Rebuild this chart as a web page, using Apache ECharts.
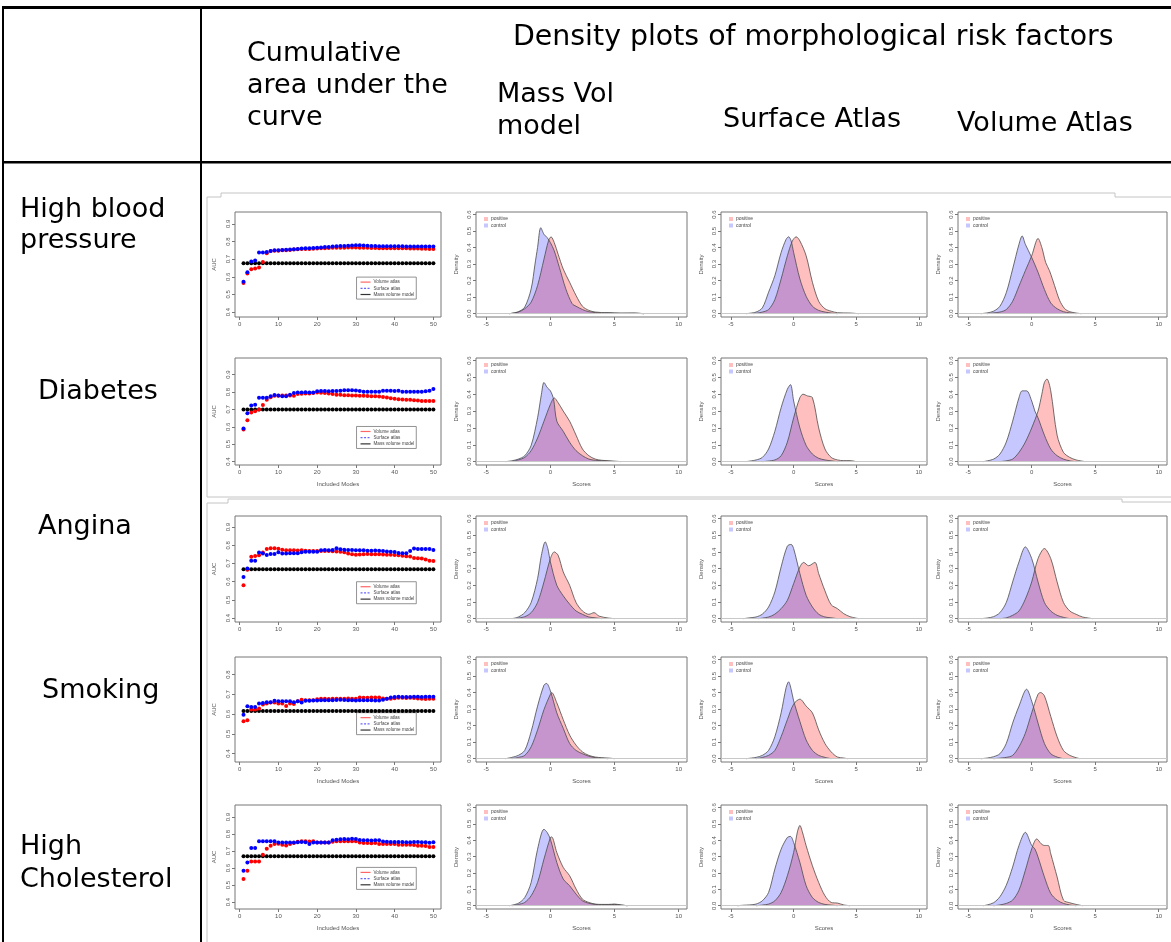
<!DOCTYPE html>
<html>
<head>
<meta charset="utf-8">
<script src="https://cdn.jsdelivr.net/npm/echarts@6/dist/echarts.min.js"></script>
<style>
html, body { margin: 0; padding: 0; background: #fff; }
#chart { width: 1171px; height: 942px; }
</style>
</head>
<body>
<div id="chart"></div>
<script>
// ---- data ----
const modeIdx = Array.from({length: 50}, (_, i) => i + 1) // included modes 1..50

// cumulative AUC, one array per risk factor and atlas
const aucVolHBP = [0.565,0.619,0.643,0.647,0.653,0.683,0.733,0.746,0.748,0.748,0.750,0.750,0.752,0.754,0.756,0.757,0.757,0.758,0.759,0.760,0.761,0.762,0.763,0.764,0.764,0.765,0.765,0.766,0.766,0.766,0.765,0.764,0.764,0.763,0.763,0.762,0.762,0.762,0.762,0.762,0.761,0.761,0.761,0.760,0.760,0.760,0.759,0.759,0.758,0.757]
const aucSurfHBP = [0.572,0.625,0.687,0.692,0.737,0.737,0.741,0.746,0.750,0.750,0.751,0.753,0.755,0.756,0.758,0.760,0.761,0.762,0.763,0.765,0.766,0.768,0.769,0.771,0.773,0.774,0.775,0.776,0.777,0.778,0.778,0.777,0.776,0.775,0.774,0.773,0.773,0.773,0.773,0.773,0.773,0.773,0.772,0.772,0.771,0.771,0.771,0.771,0.771,0.771]
const aucMassHBP = 0.677

const aucVolDiab = [0.585,0.637,0.682,0.690,0.700,0.725,0.755,0.770,0.778,0.779,0.780,0.780,0.780,0.778,0.789,0.790,0.791,0.792,0.794,0.798,0.796,0.795,0.792,0.789,0.785,0.784,0.782,0.781,0.780,0.780,0.779,0.778,0.777,0.776,0.776,0.774,0.772,0.768,0.764,0.761,0.759,0.757,0.756,0.755,0.753,0.752,0.748,0.748,0.748,0.748]
const aucSurfDiab = [0.590,0.678,0.723,0.727,0.767,0.767,0.767,0.776,0.783,0.780,0.776,0.776,0.785,0.795,0.798,0.798,0.799,0.798,0.798,0.804,0.806,0.806,0.805,0.806,0.806,0.808,0.810,0.810,0.810,0.809,0.806,0.802,0.802,0.802,0.801,0.802,0.808,0.808,0.807,0.806,0.808,0.802,0.801,0.801,0.801,0.801,0.802,0.805,0.808,0.817]
const aucMassDiab = 0.699

const aucVolAng = [0.580,0.665,0.737,0.741,0.745,0.760,0.780,0.783,0.783,0.781,0.775,0.773,0.772,0.772,0.771,0.772,0.770,0.768,0.768,0.768,0.768,0.769,0.768,0.767,0.766,0.765,0.761,0.755,0.750,0.748,0.749,0.751,0.752,0.751,0.750,0.750,0.749,0.748,0.748,0.747,0.745,0.742,0.740,0.738,0.730,0.728,0.727,0.722,0.715,0.713]
const aucSurfAng = [0.626,0.672,0.715,0.715,0.760,0.755,0.746,0.752,0.752,0.761,0.755,0.755,0.756,0.756,0.756,0.762,0.765,0.764,0.765,0.765,0.772,0.774,0.773,0.774,0.783,0.778,0.776,0.774,0.774,0.773,0.772,0.772,0.770,0.770,0.771,0.770,0.768,0.766,0.764,0.763,0.758,0.756,0.756,0.768,0.782,0.780,0.779,0.780,0.779,0.774]
const aucMassAng = 0.668

const aucVolSmk = [0.564,0.569,0.623,0.623,0.628,0.648,0.653,0.658,0.659,0.653,0.653,0.641,0.653,0.651,0.665,0.673,0.670,0.670,0.670,0.675,0.677,0.677,0.676,0.677,0.677,0.678,0.678,0.679,0.678,0.678,0.684,0.683,0.682,0.684,0.684,0.684,0.679,0.678,0.678,0.680,0.682,0.682,0.681,0.682,0.681,0.679,0.678,0.676,0.678,0.678]
const aucSurfSmk = [0.597,0.640,0.636,0.636,0.653,0.656,0.660,0.660,0.667,0.665,0.665,0.665,0.665,0.660,0.665,0.658,0.667,0.667,0.668,0.668,0.670,0.670,0.670,0.670,0.671,0.672,0.671,0.670,0.670,0.668,0.670,0.670,0.670,0.670,0.669,0.668,0.672,0.678,0.684,0.686,0.687,0.686,0.686,0.686,0.688,0.687,0.686,0.687,0.688,0.687]
const aucMassSmk = 0.616

const aucVolChol = [0.535,0.584,0.639,0.639,0.639,0.678,0.714,0.731,0.741,0.743,0.737,0.733,0.741,0.747,0.755,0.757,0.757,0.756,0.757,0.751,0.751,0.751,0.751,0.755,0.757,0.757,0.758,0.757,0.757,0.757,0.750,0.748,0.747,0.746,0.747,0.741,0.741,0.741,0.741,0.741,0.737,0.737,0.737,0.737,0.736,0.731,0.731,0.729,0.724,0.724]
const aucSurfChol = [0.584,0.633,0.718,0.718,0.757,0.758,0.757,0.757,0.757,0.751,0.751,0.751,0.750,0.751,0.752,0.753,0.752,0.742,0.751,0.751,0.751,0.751,0.751,0.763,0.767,0.770,0.771,0.770,0.772,0.771,0.765,0.763,0.763,0.762,0.763,0.763,0.756,0.755,0.753,0.753,0.753,0.753,0.752,0.752,0.753,0.753,0.752,0.752,0.749,0.752]
const aucMassChol = 0.669

// density curves [score, density]
const densMassHBPPos = [[-3.2,0],[-2.5,0.01],[-2,0.03],[-1.5,0.07],[-1,0.17],[-0.5,0.33],[-0.15,0.44],[0.05,0.465],[0.3,0.43],[0.6,0.36],[1,0.27],[1.5,0.19],[2,0.11],[2.5,0.045],[3,0.02],[3.5,0.01],[4.5,0.005],[5.5,0.003],[6.5,0.003],[7.3,0]]
const densMassHBPCtrl = [[-3.2,0],[-2.5,0.012],[-2,0.04],[-1.5,0.15],[-1.2,0.3],[-1,0.40],[-0.75,0.52],[-0.5,0.48],[-0.25,0.46],[0,0.43],[0.3,0.38],[0.7,0.28],[1.2,0.15],[1.7,0.06],[2,0.045],[2.5,0.025],[3,0.012],[4,0.004],[4.5,0.006],[5.5,0.003],[6.5,0.004],[7.3,0]]
const densSurfHBPPos = [[-3.2,0],[-2.5,0.01],[-2,0.025],[-1.5,0.085],[-1,0.21],[-0.5,0.35],[-0.1,0.44],[0.2,0.465],[0.5,0.44],[1,0.35],[1.5,0.19],[2,0.075],[2.5,0.03],[3,0.015],[3.5,0.006],[4.5,0.004],[5.2,0]]
const densSurfHBPCtrl = [[-3.8,0],[-3,0.01],[-2.5,0.035],[-2,0.13],[-1.5,0.23],[-1,0.37],[-0.6,0.45],[-0.4,0.465],[-0.2,0.44],[0,0.37],[0.5,0.21],[1,0.105],[1.5,0.045],[2,0.02],[2.5,0.01],[3,0.004],[3.5,0]]
const densVolHBPPos = [[-3.5,0],[-3,0.005],[-2.5,0.01],[-2,0.025],[-1.5,0.075],[-1,0.167],[-0.5,0.26],[0,0.35],[0.5,0.455],[0.8,0.40],[1.1,0.31],[1.4,0.26],[1.8,0.17],[2.2,0.08],[2.6,0.03],[3,0.012],[3.5,0.004],[3.9,0]]
const densVolHBPCtrl = [[-4,0],[-3.5,0.005],[-3,0.015],[-2.5,0.045],[-2,0.127],[-1.5,0.27],[-1,0.42],[-0.75,0.47],[-0.5,0.42],[0,0.34],[0.5,0.25],[1,0.147],[1.5,0.065],[2,0.03],[2.5,0.012],[3,0.005],[3.5,0]]

const densMassDiabPos = [[-3,0],[-2.5,0.01],[-2,0.025],[-1.5,0.065],[-1,0.14],[-0.5,0.24],[0,0.34],[0.3,0.378],[0.6,0.35],[1,0.30],[1.5,0.24],[2,0.157],[2.5,0.075],[3,0.035],[3.5,0.015],[4,0.008],[5,0.003],[5.5,0]]
const densMassDiabCtrl = [[-3.5,0],[-3,0.005],[-2.5,0.015],[-2,0.035],[-1.5,0.096],[-1,0.26],[-0.7,0.40],[-0.5,0.47],[-0.25,0.44],[0,0.42],[0.25,0.37],[0.5,0.24],[1,0.18],[1.5,0.115],[2,0.065],[2.5,0.035],[3,0.015],[3.5,0.008],[4.5,0.003],[5,0]]
const densSurfDiabPos = [[-2.5,0],[-1.5,0.01],[-1,0.035],[-0.5,0.116],[0,0.26],[0.5,0.38],[0.75,0.40],[1.1,0.39],[1.5,0.38],[2,0.2],[2.5,0.075],[3,0.025],[3.5,0.01],[4,0.006],[4.5,0.006],[5,0]]
const densSurfDiabCtrl = [[-3.8,0],[-3,0.01],[-2.5,0.025],[-2,0.075],[-1.5,0.18],[-1,0.32],[-0.5,0.43],[-0.25,0.457],[0,0.36],[0.5,0.2],[1,0.096],[1.5,0.045],[2,0.02],[2.5,0.01],[3,0.005],[3.5,0]]
const densVolDiabPos = [[-2.5,0],[-2,0.005],[-1.5,0.015],[-1,0.055],[-0.5,0.116],[0,0.2],[0.5,0.3],[0.8,0.40],[1,0.47],[1.2,0.49],[1.5,0.42],[2,0.157],[2.5,0.055],[3,0.025],[3.5,0.01],[4.2,0]]
const densVolDiabCtrl = [[-3.8,0],[-3,0.015],[-2.5,0.045],[-2,0.116],[-1.5,0.24],[-1,0.38],[-0.75,0.42],[-0.4,0.42],[0,0.36],[0.25,0.30],[0.5,0.26],[1,0.157],[1.5,0.075],[2,0.035],[2.5,0.015],[3,0.005],[3.5,0]]

const densMassAngPos = [[-2.8,0],[-2,0.012],[-1.5,0.036],[-1,0.097],[-0.5,0.22],[0,0.36],[0.3,0.40],[0.6,0.38],[1,0.28],[1.5,0.2],[2,0.097],[2.5,0.046],[3,0.026],[3.4,0.036],[3.8,0.015],[4.5,0.004],[5,0]]
const densMassAngCtrl = [[-3,0],[-2.5,0.01],[-2,0.036],[-1.5,0.097],[-1,0.24],[-0.7,0.38],[-0.4,0.46],[-0.2,0.42],[0,0.34],[0.5,0.2],[1,0.137],[1.5,0.087],[2,0.046],[2.5,0.026],[3,0.01],[3.5,0.005],[4,0]]
const densSurfAngPos = [[-2.8,0],[-2,0.01],[-1.5,0.027],[-1,0.06],[-0.5,0.11],[0,0.21],[0.5,0.31],[0.8,0.337],[1.2,0.317],[1.7,0.337],[2,0.27],[2.5,0.167],[3,0.083],[3.5,0.06],[4,0.03],[4.5,0.012],[5.2,0]]
const densSurfAngCtrl = [[-4,0],[-3.5,0.005],[-3,0.01],[-2.5,0.027],[-2,0.07],[-1.5,0.16],[-1,0.31],[-0.5,0.435],[-0.2,0.445],[0,0.42],[0.5,0.27],[1,0.14],[1.5,0.07],[2,0.027],[2.5,0.01],[3,0.005],[3.5,0]]
const densVolAngPos = [[-2.5,0],[-2,0.005],[-1.5,0.02],[-1,0.046],[-0.5,0.117],[0,0.22],[0.5,0.36],[1,0.42],[1.5,0.36],[2,0.22],[2.5,0.097],[3,0.046],[3.5,0.026],[4,0.01],[4.8,0]]
const densVolAngCtrl = [[-4,0],[-3.5,0.004],[-3,0.012],[-2.5,0.036],[-2,0.097],[-1.5,0.22],[-1,0.34],[-0.5,0.43],[0,0.36],[0.5,0.22],[1,0.097],[1.5,0.046],[2,0.02],[2.5,0.008],[3,0]]

const densMassSmkPos = [[-3,0],[-2.5,0.008],[-2,0.02],[-1.5,0.072],[-1,0.174],[-0.5,0.297],[0,0.39],[0.1,0.40],[0.5,0.338],[1,0.236],[1.5,0.143],[2,0.082],[2.5,0.041],[3,0.02],[3.5,0.01],[4,0.006],[4.5,0.004],[5,0]]
const densMassSmkCtrl = [[-3.5,0],[-3,0.008],[-2.5,0.02],[-2,0.05],[-1.5,0.164],[-1,0.318],[-0.5,0.445],[-0.3,0.455],[0,0.41],[0.5,0.277],[1,0.184],[1.5,0.092],[2,0.05],[2.5,0.03],[3,0.015],[3.5,0.006],[4,0.003],[4.5,0]]
const densSurfSmkPos = [[-3,0],[-2.5,0.008],[-2,0.02],[-1.5,0.05],[-1,0.133],[-0.5,0.236],[0,0.33],[0.5,0.36],[1,0.318],[1.5,0.277],[2,0.174],[2.5,0.092],[3,0.041],[3.5,0.01],[4,0.004],[4.3,0]]
const densSurfSmkCtrl = [[-3.8,0],[-3,0.008],[-2.5,0.02],[-2,0.05],[-1.5,0.133],[-1,0.277],[-0.6,0.43],[-0.4,0.465],[-0.2,0.42],[0,0.35],[0.5,0.225],[1,0.113],[1.5,0.05],[2,0.02],[2.5,0.008],[3,0]]
const densVolSmkPos = [[-3,0],[-2,0.008],[-1.5,0.02],[-1,0.072],[-0.5,0.154],[0,0.277],[0.5,0.39],[0.7,0.40],[1,0.38],[1.5,0.256],[2,0.133],[2.5,0.05],[3,0.02],[3.5,0.006],[3.8,0]]
const densVolSmkCtrl = [[-4,0],[-3.5,0.004],[-3,0.012],[-2.5,0.03],[-2,0.092],[-1.5,0.215],[-1,0.318],[-0.4,0.42],[0,0.348],[0.5,0.215],[1,0.092],[1.5,0.03],[2,0.01],[2.5,0]]

const densMassCholPos = [[-3,0],[-2.5,0.008],[-2,0.02],[-1.5,0.061],[-1,0.142],[-0.5,0.285],[0,0.417],[0.1,0.42],[0.5,0.325],[1,0.234],[1.5,0.183],[2,0.102],[2.5,0.04],[3,0.02],[3.5,0.01],[4,0.008],[4.5,0.008],[5,0.01],[5.5,0.005],[6,0]]
const densMassCholCtrl = [[-3.2,0],[-2.5,0.015],[-2,0.05],[-1.5,0.142],[-1,0.345],[-0.5,0.467],[-0.25,0.447],[0,0.406],[0.5,0.264],[1,0.163],[1.5,0.122],[2,0.071],[2.5,0.03],[3,0.015],[3.5,0.008],[4,0.006],[4.5,0.006],[5,0.008],[5.5,0.004],[6,0]]
const densSurfCholPos = [[-3,0],[-2.5,0.004],[-2,0.01],[-1.5,0.03],[-1,0.081],[-0.5,0.183],[0,0.325],[0.3,0.45],[0.5,0.49],[0.7,0.45],[1,0.366],[1.5,0.244],[2,0.142],[2.5,0.061],[3,0.02],[3.5,0.016],[4,0.005],[4.5,0]]
const densSurfCholCtrl = [[-4.5,0],[-4,0.003],[-3.5,0.005],[-3,0.01],[-2.5,0.03],[-2,0.081],[-1.5,0.224],[-1,0.345],[-0.5,0.417],[-0.25,0.423],[0,0.386],[0.5,0.264],[1,0.122],[1.5,0.05],[2,0.02],[2.5,0.008],[3,0.004],[3.5,0]]
const densVolCholPos = [[-3,0],[-2.5,0.005],[-2,0.014],[-1.5,0.034],[-1,0.095],[-0.5,0.216],[0,0.347],[0.4,0.408],[0.75,0.378],[1,0.368],[1.3,0.368],[1.5,0.317],[2,0.176],[2.5,0.034],[3,0.018],[3.5,0.008],[4,0]]
const densVolCholCtrl = [[-3.8,0],[-3.5,0.005],[-3,0.018],[-2.5,0.055],[-2,0.125],[-1.5,0.236],[-1,0.368],[-0.5,0.448],[0,0.368],[0.25,0.347],[0.5,0.297],[1,0.176],[1.5,0.075],[2,0.034],[2.5,0.014],[3,0.005],[3.5,0]]

// tick labels
const aucXTicks = [0, 10, 20, 30, 40, 50]
const aucYTicks = [0.4, 0.5, 0.6, 0.7, 0.8, 0.9]
const aucYTicksSmk = [0.4, 0.5, 0.6, 0.7, 0.8]
const scoreTicks = [-5, 0, 5, 10]
const densTicks = [0, 0.1, 0.2, 0.3, 0.4, 0.5, 0.6]

const rows = [
  {label: ['High blood', 'pressure'], vol: aucVolHBP, surf: aucSurfHBP, mass: aucMassHBP, yTicks: aucYTicks,
    dens: [[densMassHBPPos, densMassHBPCtrl], [densSurfHBPPos, densSurfHBPCtrl], [densVolHBPPos, densVolHBPCtrl]]},
  {label: ['Diabetes'], vol: aucVolDiab, surf: aucSurfDiab, mass: aucMassDiab, yTicks: aucYTicks,
    dens: [[densMassDiabPos, densMassDiabCtrl], [densSurfDiabPos, densSurfDiabCtrl], [densVolDiabPos, densVolDiabCtrl]]},
  {label: ['Angina'], vol: aucVolAng, surf: aucSurfAng, mass: aucMassAng, yTicks: aucYTicks,
    dens: [[densMassAngPos, densMassAngCtrl], [densSurfAngPos, densSurfAngCtrl], [densVolAngPos, densVolAngCtrl]]},
  {label: ['Smoking'], vol: aucVolSmk, surf: aucSurfSmk, mass: aucMassSmk, yTicks: aucYTicksSmk,
    dens: [[densMassSmkPos, densMassSmkCtrl], [densSurfSmkPos, densSurfSmkCtrl], [densVolSmkPos, densVolSmkCtrl]]},
  {label: ['High', 'Cholesterol'], vol: aucVolChol, surf: aucSurfChol, mass: aucMassChol, yTicks: aucYTicks,
    dens: [[densMassCholPos, densMassCholCtrl], [densSurfCholPos, densSurfCholCtrl], [densVolCholPos, densVolCholCtrl]]},
]

// ---- layout ----
const rowBoxes = [[212, 317], [358, 465], [516, 622], [657, 762], [805, 909]]
const colBoxes = [[235, 441], [476, 687], [721, 927], [958, 1167]]
const aucYRange = [[0.372, 0.967], [0.38, 0.996], [0.378, 0.961], [0.357, 0.889], [0.359, 0.971]]
const aucLegendTop = [0.62, 0.64, 0.62, 0.53, 0.6]
const rowLabelPos = [[20, [210, 241]], [38, [392]], [38, [527]], [42, [691]], [20, [847, 880]]]
const showXName = [false, true, false, true, true]

const FONT = '"DejaVu Sans", Verdana, sans-serif'
const PLOT_FONT = '"Liberation Sans", Arial, sans-serif'
const BOX = '#777'
const LABEL = '#555'

const grids = [], xAxes = [], yAxes = [], series = [], graphics = []

const txt = (text, x, y, size, opt = {}) => ({
  type: 'text', x, y, silent: true,
  style: Object.assign({text, fill: '#000', fontSize: size, fontFamily: FONT,
    align: 'left', verticalAlign: 'middle', textAlign: 'left', textVerticalAlign: 'middle'}, opt)
})

const axisBase = (ticks, fmt, rotate) => ({
  axisLine: {show: false, onZero: false},
  axisTick: {show: true, length: 3, customValues: ticks, lineStyle: {color: BOX, width: 1}},
  axisLabel: {customValues: ticks, formatter: fmt, rotate: rotate, fontSize: 6, color: LABEL, margin: 4, fontFamily: PLOT_FONT},
  splitLine: {show: false},
  nameTextStyle: {fontSize: 6, color: LABEL, fontFamily: PLOT_FONT},
  nameLocation: 'middle',
})

rows.forEach((row, r) => {
  const [top, bottom] = rowBoxes[r]
  // AUC panel
  {
    const [left, right] = colBoxes[0]
    const gi = grids.length
    grids.push({left, top, width: right - left, height: bottom - top, show: true, borderColor: BOX, borderWidth: 1, backgroundColor: '#fff'})
    xAxes.push(Object.assign(axisBase(aucXTicks, v => String(v), 0), {
      gridIndex: gi, type: 'value', min: -1.2, max: 51.96,
      name: showXName[r] ? 'Included Modes' : '', nameGap: 16
    }))
    yAxes.push(Object.assign(axisBase(row.yTicks, v => v.toFixed(1), 90), {
      gridIndex: gi, type: 'value', min: aucYRange[r][0], max: aucYRange[r][1],
      name: 'AUC', nameGap: 18, nameRotate: 90
    }))
    const base = {type: 'scatter', xAxisIndex: gi, yAxisIndex: gi, symbolSize: 4, silent: true, animation: false}
    series.push(Object.assign({}, base, {name: 'Mass volume model', itemStyle: {color: '#000', opacity: 1}, data: modeIdx.map(m => [m, row.mass])}))
    series.push(Object.assign({}, base, {name: 'Volume atlas', itemStyle: {color: '#ff0000', opacity: 1}, data: row.vol.map((v, i) => [modeIdx[i], v])}))
    series.push(Object.assign({}, base, {name: 'Surface atlas', itemStyle: {color: '#0000ff', opacity: 1}, data: row.surf.map((v, i) => [modeIdx[i], v])}))

    // R style legend box
    const w = right - left, h = bottom - top
    const lx = left + w * 0.59, ly = top + h * aucLegendTop[r]
    const lw = w * 0.29, lh = 22
    graphics.push({type: 'rect', silent: true, shape: {x: lx, y: ly, width: lw, height: lh}, style: {fill: '#fff', stroke: BOX, lineWidth: 0.8}})
    const items = [['Volume atlas', '#ff6666', null], ['Surface atlas', '#6666ff', [2, 1.5]], ['Mass volume model', '#333', null]]
    items.forEach((it, k) => {
      const yy = ly + 5 + k * 6.2
      graphics.push({type: 'line', silent: true, shape: {x1: lx + 4, y1: yy, x2: lx + 14, y2: yy}, style: {stroke: it[1], lineWidth: 1.2, lineDash: it[2]}})
      graphics.push(txt(it[0], lx + 17, yy, 4.6, {fill: '#444', fontFamily: PLOT_FONT}))
    })
  }
  // density panels
  row.dens.forEach((pair, c) => {
    const [left, right] = colBoxes[c + 1]
    const gi = grids.length
    grids.push({left, top, width: right - left, height: bottom - top, show: true, borderColor: BOX, borderWidth: 1, backgroundColor: '#fff'})
    xAxes.push(Object.assign(axisBase(scoreTicks, v => String(v), 0), {
      gridIndex: gi, type: 'value', min: -5.8, max: 10.65,
      name: showXName[r] ? 'Scores' : '', nameGap: 16
    }))
    yAxes.push(Object.assign(axisBase(densTicks, v => v.toFixed(1), 90), {
      gridIndex: gi, type: 'value', min: -0.02, max: 0.615,
      name: 'Density', nameGap: 17, nameRotate: 90
    }))
    const base = {type: 'line', xAxisIndex: gi, yAxisIndex: gi, smooth: 0.3, symbol: 'none', silent: true, animation: false,
      lineStyle: {color: '#4a4a4a', width: 0.8}}
    series.push(Object.assign({}, base, {name: 'positive', areaStyle: {color: 'rgba(255,0,0,0.25)', opacity: 1}, data: pair[0],
      markLine: {silent: true, symbol: 'none', label: {show: false}, animation: false,
        lineStyle: {color: '#c8c8c8', type: 'solid', width: 1}, data: [{yAxis: 0}]}}))
    series.push(Object.assign({}, base, {name: 'control', areaStyle: {color: 'rgba(0,0,255,0.22)', opacity: 1}, data: pair[1]}))

    // legend squares
    graphics.push({type: 'rect', silent: true, shape: {x: left + 8, y: top + 5, width: 4, height: 4}, style: {fill: 'rgba(255,0,0,0.25)'}})
    graphics.push({type: 'rect', silent: true, shape: {x: left + 8, y: top + 11.5, width: 4, height: 4}, style: {fill: 'rgba(0,0,255,0.22)'}})
    graphics.push(txt('positive', left + 15, top + 7, 5, {fill: '#444', fontFamily: PLOT_FONT}))
    graphics.push(txt('control', left + 15, top + 13.5, 5, {fill: '#444', fontFamily: PLOT_FONT}))
  })
})

// screenshot frames around the plot rows
const frameStyle = {stroke: '#c4c4c4', lineWidth: 1, fill: null}
graphics.push({type: 'polyline', silent: true, shape: {points: [[207, 497], [207, 197], [221, 197], [221, 193], [1115, 193], [1115, 197], [1171, 197]]}, style: frameStyle})
graphics.push({type: 'line', silent: true, shape: {x1: 207, y1: 497, x2: 1171, y2: 497}, style: frameStyle})
graphics.push({type: 'polyline', silent: true, shape: {points: [[207, 942], [207, 503], [228, 503], [228, 499], [1122, 499], [1122, 502], [1171, 502]]}, style: frameStyle})

// table rules
graphics.push({type: 'rect', silent: true, shape: {x: 2, y: 6, width: 1169, height: 3}, style: {fill: '#000'}})
graphics.push({type: 'rect', silent: true, shape: {x: 2, y: 161, width: 1169, height: 2.5}, style: {fill: '#000'}})
graphics.push({type: 'rect', silent: true, shape: {x: 2, y: 6, width: 2, height: 936}, style: {fill: '#000'}})
graphics.push({type: 'rect', silent: true, shape: {x: 200, y: 6, width: 2, height: 936}, style: {fill: '#000'}})

// header
const headerTexts = [
  ['Density plots of morphological risk factors', 513, 38, 28.4],
  ['Cumulative', 247, 54, 27],
  ['area under the', 247, 86, 27],
  ['curve', 247, 118, 27],
  ['Mass Vol', 497, 95, 27],
  ['model', 497, 127, 27],
  ['Surface Atlas', 723, 120, 27],
  ['Volume Atlas', 957, 124, 27],
]
headerTexts.forEach(t => graphics.push(txt(t[0], t[1], t[2], t[3])))

// row labels
rows.forEach((row, r) => {
  const [x, ys] = rowLabelPos[r]
  row.label.forEach((line, k) => graphics.push(txt(line, x, ys[k], 27)))
})

const chart = echarts.init(document.getElementById('chart'))
chart.setOption({
  animation: false,
  backgroundColor: '#fff',
  grid: grids,
  xAxis: xAxes,
  yAxis: yAxes,
  series: series,
  graphic: {elements: graphics},
})
</script>
</body>
</html>
